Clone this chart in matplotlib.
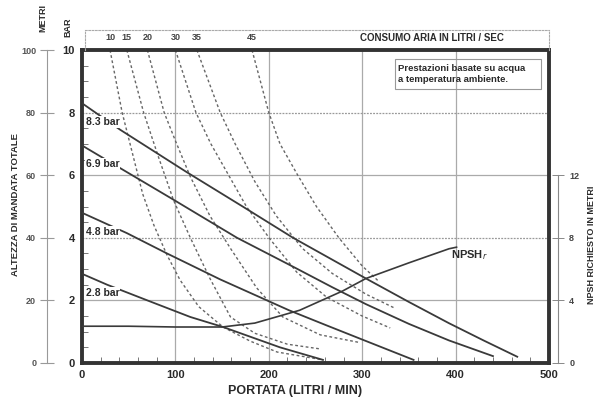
import matplotlib.pyplot as plt
from matplotlib.patches import Rectangle

plt.rcParams['font.family'] = ['Liberation Sans', 'DejaVu Sans']

# -----------------------------------------------------------------------
# Curve data (portata L/min  ->  prevalenza bar)
# -----------------------------------------------------------------------
PRESS_LABELS = ["8.3 bar", "6.9 bar", "4.8 bar", "2.8 bar"]
P83_Q = [0, 41, 112, 172, 226, 268, 304, 350, 393, 430, 466]
P83_H = [8.3, 7.45, 6.1, 5.0, 4.0, 3.3, 2.7, 1.95, 1.27, 0.72, 0.2]
P69_Q = [0, 48, 95, 166, 229, 268, 304, 350, 393, 440]
P69_H = [6.95, 6.1, 5.27, 4.0, 3.03, 2.42, 1.88, 1.25, 0.72, 0.22]
P48_Q = [0, 48, 91, 148, 222, 262, 300, 355]
P48_H = [4.8, 4.15, 3.5, 2.67, 1.68, 1.2, 0.75, 0.1]
P28_Q = [0, 27, 70, 116, 151, 212, 258]
P28_H = [2.85, 2.5, 2.0, 1.47, 1.15, 0.5, 0.1]

# air consumption curves (litri / sec)
AIR_LABELS = ["10", "15", "20", "30", "35", "45"]
A10_Q = [30, 43, 54, 65, 77, 91, 105, 125, 151, 180, 209, 258]
A10_H = [10, 8, 6.7, 5.4, 4.4, 3.45, 2.65, 1.8, 1.15, 0.7, 0.35, 0.1]
A15_Q = [48, 66, 82, 98, 116, 137, 159, 185, 220, 255]
A15_H = [10, 8, 6.57, 5.2, 4.0, 2.7, 1.47, 0.95, 0.6, 0.45]
A20_Q = [70, 88, 100, 116, 137, 159, 187, 215, 255, 298]
A20_H = [10, 8, 7.1, 5.95, 4.7, 3.66, 2.4, 1.47, 0.9, 0.65]
A30_Q = [100, 122, 138, 157, 176, 201, 230, 262, 300, 330]
A30_H = [10, 8, 7.0, 6.0, 5.0, 3.97, 2.9, 2.1, 1.5, 1.12]
A35_Q = [123, 148, 164, 185, 208, 236, 268, 304, 335]
A35_H = [10, 8, 7.0, 5.8, 4.7, 3.66, 2.86, 2.2, 1.75]
A45_Q = [182, 200, 212, 230, 251, 275, 300, 318]
A45_H = [10, 8, 7.0, 6.05, 5.0, 4.0, 3.1, 2.6]

# NPSH richiesto (metri)
NPSH_Q = [0, 50, 100, 150, 185, 233, 279, 304, 350, 393, 401]
NPSH_M = [2.35, 2.35, 2.3, 2.3, 2.55, 3.37, 4.6, 5.4, 6.4, 7.3, 7.4]

PRESS = [(P83_Q, P83_H), (P69_Q, P69_H), (P48_Q, P48_H), (P28_Q, P28_H)]
AIR = [(A10_Q, A10_H), (A15_Q, A15_H), (A20_Q, A20_H),
       (A30_Q, A30_H), (A35_Q, A35_H), (A45_Q, A45_H)]

W, H = 596, 405
L, R, B, T = 82 / W, 549 / W, 1 - 363 / H, 1 - 50 / H
DARK = "#333333"
GRID = "#aaaaaa"
TXT = "#2a2a2a"

fig = plt.figure(figsize=(W / 100, H / 100), dpi=100)
ax = fig.add_axes([L, B, R - L, T - B])
ax.set_xlim(0, 500)
ax.set_ylim(0, 10)

for s in ax.spines.values():
    s.set_linewidth(2.8)
    s.set_color(DARK)

# grid
for q in [100, 200, 300, 400]:
    ax.axvline(q, color=GRID, lw=0.9, zorder=1)
for h in [2, 6]:
    ax.axhline(h, color=GRID, lw=0.9, zorder=1)
for h in [4, 8]:
    ax.axhline(h, color="#999999", lw=0.9, ls=(0, (1.5, 1)), zorder=1)

# air consumption (dashed)
for q, h in AIR:
    ax.plot(q, h, color="#666666", lw=1.0, ls=(0, (2, 1.8)), zorder=2)

# pressure curves
for (q, h), lab in zip(PRESS, PRESS_LABELS):
    ax.plot(q, h, color="#3a3a3a", lw=1.3, zorder=3)
    ax.text(4, h[0] - 0.6, lab, fontsize=7.5, fontweight="bold", color=TXT,
            ha="left", va="center", zorder=4,
            bbox=dict(fc="white", ec="none", pad=0.6))

ax.set_xticks([0, 100, 200, 300, 400, 500])
ax.set_xticks(range(0, 500, 20), minor=True)
ax.set_yticks([0, 2, 4, 6, 8, 10])
ax.set_yticks([i * 0.5 for i in range(20)], minor=True)
ax.tick_params(axis="both", which="major", length=0, labelsize=8, colors=TXT, pad=5)
ax.tick_params(axis="both", which="minor", direction="in", length=4, width=0.7, color="#777777")
for lbl in ax.get_xticklabels() + ax.get_yticklabels():
    lbl.set_fontweight("bold")

ax.set_xlabel("PORTATA (LITRI / MIN)", fontsize=9, fontweight="bold", color=TXT)
ax.xaxis.set_label_coords((295 - 82) / (549 - 82), -0.07)

# NPSH axis on the right
ax_n = ax.twinx()
ax_n.set_ylim(0, 20)
ax_n.plot(NPSH_Q, NPSH_M, color="#3a3a3a", lw=1.2, zorder=3)
ax_n.text(415, 6.9, r"NPSH$_r$", fontsize=8, fontweight="bold", color=TXT,
          ha="center", va="center")
for k in ["top", "left", "bottom"]:
    ax_n.spines[k].set_visible(False)
ax_n.spines["right"].set_position(("outward", 6.5))
ax_n.spines["right"].set_bounds(0, 12)
ax_n.spines["right"].set_linewidth(0.8)
ax_n.spines["right"].set_color("#888888")
ax_n.set_yticks([0, 4, 8, 12])
ax_n.tick_params(axis="y", direction="inout", length=8, width=0.7, color="#888888",
                 labelsize=6.5, labelcolor="#444444", pad=4)
for lbl in ax_n.get_yticklabels():
    lbl.set_fontweight("bold")

# METRI axis on the far left
ax_m = ax.twinx()
ax_m.set_ylim(0, 100)
for k in ["top", "right", "bottom"]:
    ax_m.spines[k].set_visible(False)
ax_m.yaxis.set_ticks_position("left")
ax_m.spines["left"].set_position(("outward", 25))
ax_m.spines["left"].set_linewidth(0.8)
ax_m.spines["left"].set_color("#999999")
ax_m.set_yticks([0, 20, 40, 60, 80, 100])
ax_m.tick_params(axis="y", direction="inout", length=10, width=0.8, color="#999999",
                 labelsize=6.5, labelcolor="#555555", pad=3)
for lbl in ax_m.get_yticklabels():
    lbl.set_fontweight("bold")

# air consumption band on top
ax_t = fig.add_axes([85 / W, T, R - 85 / W, (50 - 30) / H])
ax_t.set_xlim(3 * 500 / 467, 500)
ax_t.set_ylim(0, 1)
ax_t.set_xticks([])
ax_t.set_yticks([])
ax_t.patch.set_alpha(0)
for k in ["top", "left", "right"]:
    ax_t.spines[k].set_linewidth(0.8)
    ax_t.spines[k].set_color("#aaaaaa")
    ax_t.spines[k].set_linestyle((0, (1.5, 1.5)))
ax_t.spines["bottom"].set_visible(False)
for (q, h), lab in zip(AIR, AIR_LABELS):
    ax_t.text(q[0], 0.6, lab, fontsize=6.5, fontweight="bold", color="#444444",
              ha="center", va="center")
ax_t.text(375, 0.6, "CONSUMO ARIA IN LITRI / SEC", fontsize=7, fontweight="bold",
          color=TXT, ha="center", va="center")

# note box
fig.text(398 / W, 1 - 74 / H, "Prestazioni basate su acqua\na temperatura ambiente.",
         fontsize=6.8, fontweight="bold", color=TXT, ha="left", va="center",
         linespacing=1.35)
fig.patches.append(Rectangle((395 / W, 1 - 89 / H), (541 - 395) / W, (89 - 59) / H,
                             transform=fig.transFigure, fill=False,
                             ec="#999999", lw=0.8))

# axis titles
fig.text(43 / W, 1 - 18 / H, "METRI", rotation=90, fontsize=6.5, fontweight="bold",
         color=TXT, ha="center", va="center")
fig.text(68 / W, 1 - 27 / H, "BAR", rotation=90, fontsize=6.5, fontweight="bold",
         color=TXT, ha="center", va="center")
fig.text(16 / W, 1 - 205 / H, "ALTEZZA DI MANDATA TOTALE", rotation=90, fontsize=6.8,
         fontweight="bold", color=TXT, ha="center", va="center")
fig.text(591 / W, 1 - 245 / H, "NPSH RICHIESTO IN METRI", rotation=90, fontsize=6.5,
         fontweight="bold", color=TXT, ha="center", va="center")

fig.savefig("out.png", dpi=100)
